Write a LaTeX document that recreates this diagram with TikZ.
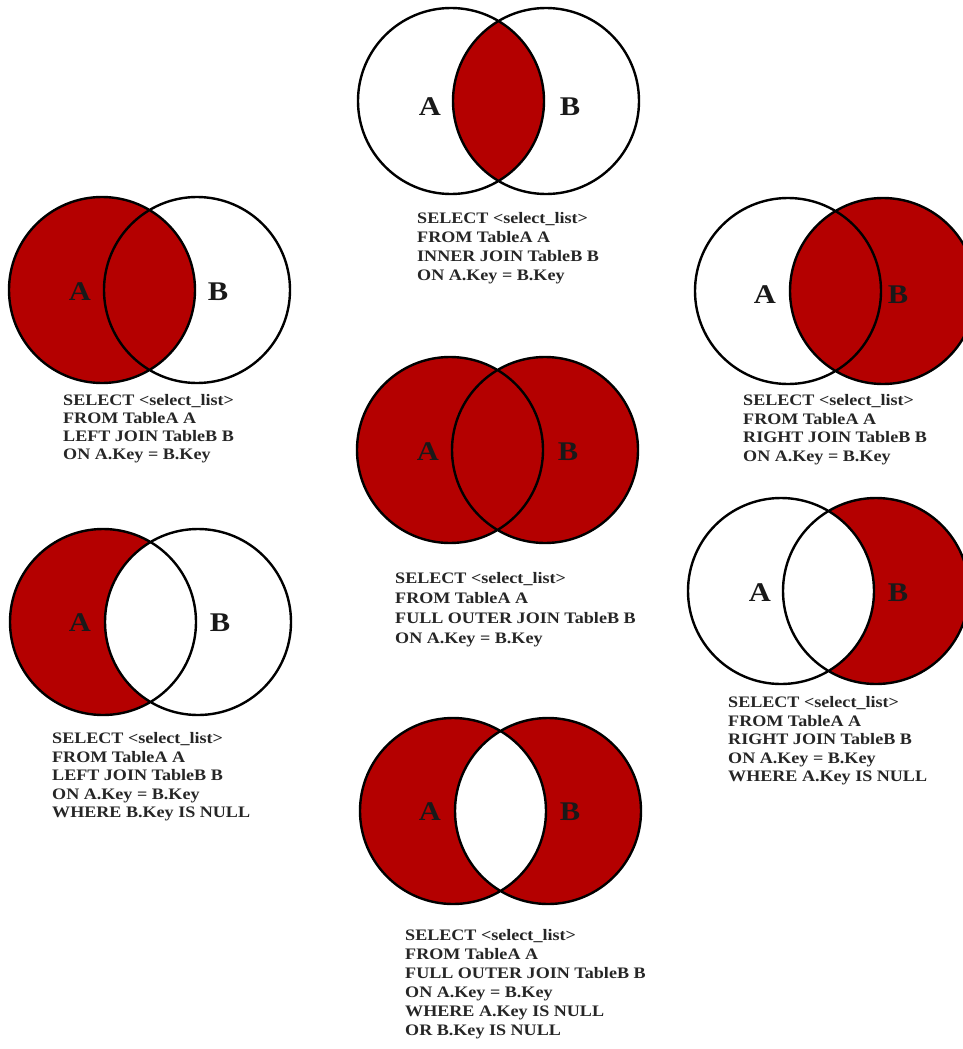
\documentclass[tikz,border=0pt]{standalone}
\usepackage{fontspec}
\newfontfamily\sqlfont[FakeStretch=1.13]{Liberation Serif}
\definecolor{joinred}{RGB}{180,0,0}
\newcommand\vennr{93pt}
\tikzset{
  ring/.style={draw=black, line width=2.4pt},
  setlabel/.style={inner sep=0pt, text=black!90, font={\sqlfont\bfseries\fontsize{27pt}{30pt}\selectfont}},
  sqltext/.style={anchor=north west, inner sep=0pt, align=left, text=black!85},
  sqlA/.style={sqltext, font={\sqlfont\bfseries\fontsize{16pt}{19pt}\selectfont}},
  sqlB/.style={sqltext, font={\sqlfont\bfseries\fontsize{16pt}{17.8pt}\selectfont}},
  sqlC/.style={sqltext, font={\sqlfont\bfseries\fontsize{16pt}{18.4pt}\selectfont}},
  sqlD/.style={sqltext, font={\sqlfont\bfseries\fontsize{16pt}{20pt}\selectfont}}
}
\begin{document}
\begin{tikzpicture}[x=1pt,y=-1pt]
\useasboundingbox (0,0) rectangle (963,1049);
\clip (0,0) rectangle (963,1049);
% centres
\coordinate (inA) at (451,101); \coordinate (inB) at (546,101);
\coordinate (ljA) at (102,290); \coordinate (ljB) at (197,290);
\coordinate (rjA) at (788,291); \coordinate (rjB) at (883,291);
\coordinate (foA) at (450,450); \coordinate (foB) at (545,450);
\coordinate (leA) at (103,622); \coordinate (leB) at (198,622);
\coordinate (reA) at (781,591); \coordinate (reB) at (876,591);
\coordinate (xoA) at (453,811); \coordinate (xoB) at (548,811);

% INNER JOIN
\begin{scope}
  \clip (inA) circle[radius=\vennr];
  \fill[joinred] (inB) circle[radius=\vennr];
\end{scope}
\draw[ring] (inA) circle[radius=\vennr] (inB) circle[radius=\vennr];
\node[setlabel] (inLA) at (430,107) {A};
\node[setlabel] (inLB) at (570,107) {B};
\node[sqlA] (inT) at (417,212.5) {SELECT <select\_list>\\FROM TableA A\\INNER JOIN TableB B\\ON A.Key = B.Key};

% LEFT JOIN
\fill[joinred] (ljA) circle[radius=\vennr];
\draw[ring] (ljA) circle[radius=\vennr] (ljB) circle[radius=\vennr];
\node[setlabel] (ljLA) at (80,292) {A};
\node[setlabel] (ljLB) at (218,292) {B};
\node[sqlB] (ljT) at (63,394.5) {SELECT <select\_list>\\FROM TableA A\\LEFT JOIN TableB B\\ON A.Key = B.Key};

% RIGHT JOIN
\fill[joinred] (rjB) circle[radius=\vennr];
\draw[ring] (rjA) circle[radius=\vennr] (rjB) circle[radius=\vennr];
\node[setlabel] (rjLA) at (765,295) {A};
\node[setlabel] (rjLB) at (898,295) {B};
\node[sqlC] (rjT) at (743,394.5) {SELECT <select\_list>\\FROM TableA A\\RIGHT JOIN TableB B\\ON A.Key = B.Key};

% FULL OUTER JOIN
\fill[joinred] (foA) circle[radius=\vennr] (foB) circle[radius=\vennr];
\draw[ring] (foA) circle[radius=\vennr] (foB) circle[radius=\vennr];
\node[setlabel] (foLA) at (428,452) {A};
\node[setlabel] (foLB) at (568,452) {B};
\node[sqlD] (foT) at (395,572.5) {SELECT <select\_list>\\FROM TableA A\\FULL OUTER JOIN TableB B\\ON A.Key = B.Key};

% LEFT JOIN, B.Key IS NULL
\fill[joinred] (leA) circle[radius=\vennr];
\begin{scope}
  \clip (leA) circle[radius=\vennr];
  \fill[white] (leB) circle[radius=\vennr];
\end{scope}
\draw[ring] (leA) circle[radius=\vennr] (leB) circle[radius=\vennr];
\node[setlabel] (leLA) at (80,623) {A};
\node[setlabel] (leLB) at (220,623) {B};
\node[sqlC] (leT) at (52,732.5) {SELECT <select\_list>\\FROM TableA A\\LEFT JOIN TableB B\\ON A.Key = B.Key\\WHERE B.Key IS NULL};

% RIGHT JOIN, A.Key IS NULL
\fill[joinred] (reB) circle[radius=\vennr];
\begin{scope}
  \clip (reB) circle[radius=\vennr];
  \fill[white] (reA) circle[radius=\vennr];
\end{scope}
\draw[ring] (reA) circle[radius=\vennr] (reB) circle[radius=\vennr];
\node[setlabel] (reLA) at (760,593) {A};
\node[setlabel] (reLB) at (898,593) {B};
\node[sqlC] (reT) at (728,696.5) {SELECT <select\_list>\\FROM TableA A\\RIGHT JOIN TableB B\\ON A.Key = B.Key\\WHERE A.Key IS NULL};

% FULL OUTER JOIN, either NULL
\fill[joinred, even odd rule] (xoA) circle[radius=\vennr] (xoB) circle[radius=\vennr];
\draw[ring] (xoA) circle[radius=\vennr] (xoB) circle[radius=\vennr];
\node[setlabel] (xoLA) at (430,812) {A};
\node[setlabel] (xoLB) at (570,812) {B};
\node[sqlA] (xoT) at (405,929.5) {SELECT <select\_list>\\FROM TableA A\\FULL OUTER JOIN TableB B\\ON A.Key = B.Key\\WHERE A.Key IS NULL\\OR B.Key IS NULL};
\end{tikzpicture}
\end{document}
